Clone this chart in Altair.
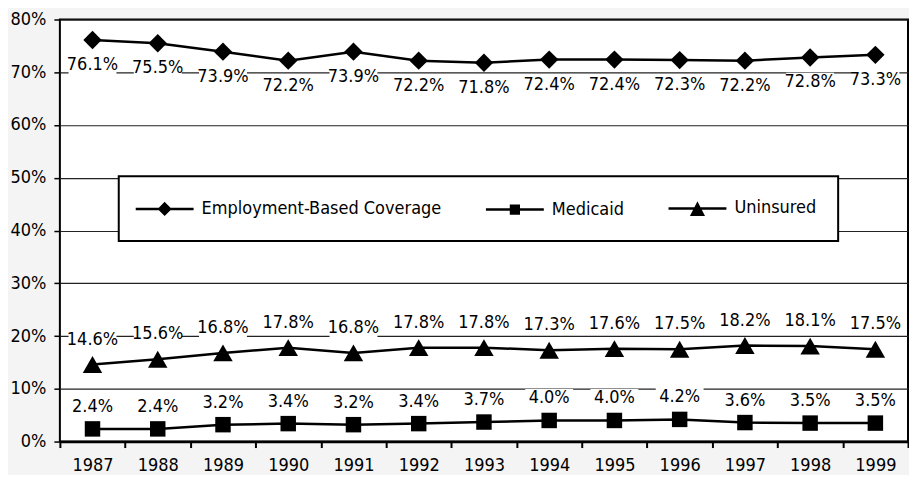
import altair as alt
import pandas as pd

years = [1987, 1988, 1989, 1990, 1991, 1992, 1993, 1994, 1995, 1996, 1997, 1998, 1999]
series_names = ["Employment-Based Coverage", "Medicaid", "Uninsured"]
employment = [76.1, 75.5, 73.9, 72.2, 73.9, 72.2, 71.8, 72.4, 72.4, 72.3, 72.2, 72.8, 73.3]
medicaid = [2.4, 2.4, 3.2, 3.4, 3.2, 3.4, 3.7, 4.0, 4.0, 4.2, 3.6, 3.5, 3.5]
uninsured = [14.6, 15.6, 16.8, 17.8, 16.8, 17.8, 17.8, 17.3, 17.6, 17.5, 18.2, 18.1, 17.5]
y_ticks = [0, 10, 20, 30, 40, 50, 60, 70, 80]

rows = []
for name, vals in zip(series_names, [employment, medicaid, uninsured]):
    for yr, v in zip(years, vals):
        rows.append({"year": str(yr), "series": name, "value": v})
df = pd.DataFrame(rows)

FONT = "DejaVu Sans Condensed, Liberation Sans, sans-serif"
FS = 18

x_enc = alt.X(
    "year:O",
    title=None,
    scale=alt.Scale(type="band", paddingInner=0, paddingOuter=0),
    axis=alt.Axis(labelAngle=0, tickBand="extent", tickSize=6, tickWidth=2,
                  labelPadding=9, domainWidth=2.5, grid=False),
)
y_enc = alt.Y(
    "value:Q",
    title=None,
    scale=alt.Scale(domain=[0, 80], nice=False, zero=True),
    axis=alt.Axis(values=y_ticks, labelExpr="datum.value + '%'", grid=True,
                  gridColor="#222222", gridWidth=1.2, tickSize=6, tickWidth=1.5,
                  labelPadding=8, domain=False),
)

base = alt.Chart(df).encode(x=x_enc, y=y_enc)

lines = base.mark_line(color="black", strokeWidth=2.5).encode(detail="series:N")

marker_shapes = {"Employment-Based Coverage": ("diamond", 340),
                 "Medicaid": ("square", 240),
                 "Uninsured": ("triangle-up", 380)}
label_dy = {"Employment-Based Coverage": 25, "Medicaid": -22, "Uninsured": -25}

box_path = "M-1,-0.4H1V0.4H-1Z"

layers = [lines]
for name in series_names:
    shp, sz = marker_shapes[name]
    sub = base.transform_filter(alt.datum.series == name)
    layers.append(sub.mark_point(shape=shp, size=sz, filled=True, color="black", opacity=1))
for name in series_names:
    sub = base.transform_filter(alt.datum.series == name)
    layers.append(sub.mark_point(shape=box_path, size=2304, filled=True, color="white",
                                 opacity=1, yOffset=label_dy[name]))
    layers.append(sub.mark_text(dy=label_dy[name], font=FONT, fontSize=FS, color="black",
                                baseline="middle").encode(
        text=alt.Text("label:N")).transform_calculate(
        label="format(datum.value, '.1f') + '%'"))

legend_paths = [
    "M-3,0H3M0,-0.55L0.55,0L0,0.55L-0.55,0ZM0,-0.3L0.3,0L0,0.3L-0.3,0ZM0,-0.08L0.08,0L0,0.08L-0.08,0Z",
    "M-3,0H3M-0.4,-0.4H0.4V0.4H-0.4ZM-0.17,-0.17H0.17V0.17H-0.17Z",
    "M-3,0H3M0,-0.47L0.57,0.635H-0.57ZM0,-0.167L0.335,0.483H-0.335ZM0,0.111L0.12,0.345H-0.12Z",
]
legend_layer = base.mark_point(filled=False, color="black", strokeWidth=2.5,
                               size=374, opacity=1).encode(
    shape=alt.Shape("series:N",
                    scale=alt.Scale(domain=series_names, range=legend_paths),
                    legend=alt.Legend(title=None, orient="none", legendX=59, legendY=157,
                                      direction="horizontal", columns=3,
                                      columnPadding=38, labelOffset=26, symbolOffset=14,
                                      symbolSize=374, symbolStrokeWidth=2.5,
                                      symbolStrokeColor="black",
                                      symbolOpacity=1,
                                      padding=21, fillColor="white",
                                      strokeColor="black",
                                      labelFont=FONT, labelFontSize=FS,
                                      labelColor="black", labelLimit=400))
).transform_filter("false")
layers.append(legend_layer)

chart = alt.layer(*layers).resolve_scale(shape="independent").properties(
    width=850, height=423,
    padding={"left": 2, "top": 2, "right": 0, "bottom": 0},
    background="#f4f4f4",
).configure_view(
    fill="white", stroke="black", strokeWidth=2,
).configure_axis(
    labelFont=FONT, labelFontSize=FS, labelColor="black",
    tickColor="black", domainColor="black",
).configure_legend(strokeWidth=2)

chart.save("out.html", embed_options={"renderer": "svg", "actions": False})
